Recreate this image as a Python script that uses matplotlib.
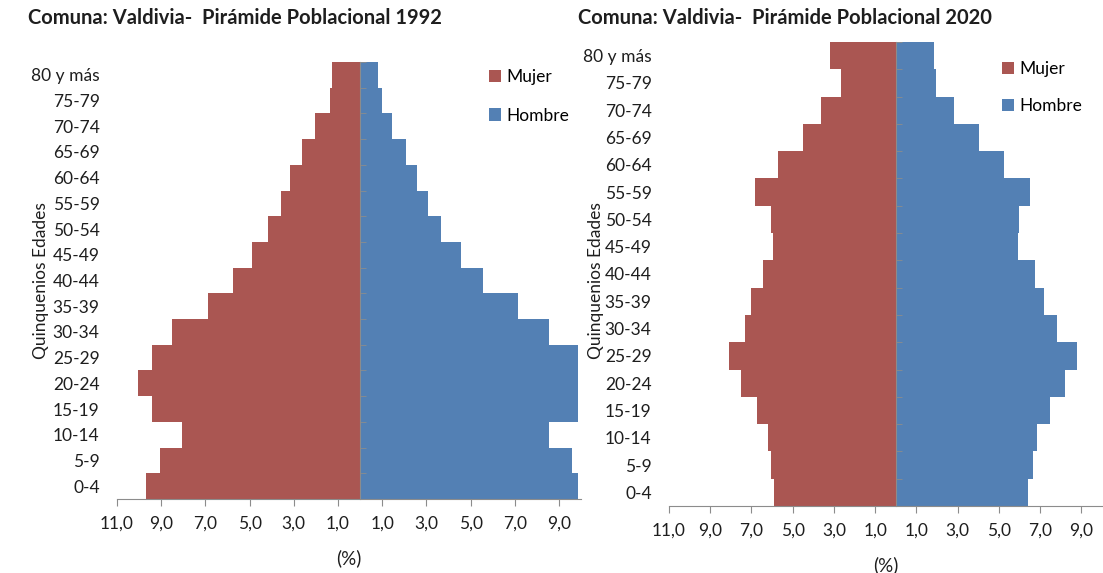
import matplotlib.pyplot as plt
import numpy as np
from matplotlib.ticker import FuncFormatter

# age groups, bottom to top
edades = ['0-4', '5-9', '10-14', '15-19', '20-24', '25-29', '30-34', '35-39',
          '40-44', '45-49', '50-54', '55-59', '60-64', '65-69', '70-74',
          '75-79', '80 y más']

# % of population, 1992
mujer_1992 = [9.68, 9.05, 8.04, 9.43, 10.03, 9.43, 8.49, 6.86, 5.76, 4.87,
              4.15, 3.57, 3.17, 2.64, 2.04, 1.36, 1.29]
hombre_1992 = [9.88, 9.59, 8.57, 9.88, 9.88, 9.88, 8.54, 7.13, 5.58, 4.58,
               3.68, 3.08, 2.56, 2.08, 1.46, 1.00, 0.83]

# % of population, 2020
mujer_2020 = [5.91, 6.05, 6.21, 6.72, 7.53, 8.07, 7.33, 7.02, 6.46, 5.97,
              6.07, 6.84, 5.73, 4.51, 3.62, 2.66, 3.19]
hombre_2020 = [6.40, 6.63, 6.87, 7.48, 8.19, 8.77, 7.84, 7.19, 6.73, 5.94,
               5.99, 6.53, 5.24, 4.02, 2.83, 1.95, 1.85]

red = '#AA5652'
blue = '#5380B4'
gray = '#8C8C8C'
txt = '#1E1E1E'

plt.rcParams['font.family'] = ['Lato', 'DejaVu Sans']

fig = plt.figure(figsize=(11.03, 5.73), dpi=100)


def piramide(rect, mujer, hombre, titulo, tx, leg_pos, ylab_x, lspace):
    ax = fig.add_axes(rect)
    y = np.arange(len(edades))
    ax.barh(y, -np.array(mujer), height=1.0, color=red, label='Mujer', linewidth=0)
    ax.barh(y, hombre, height=1.0, color=blue, label='Hombre', linewidth=0)
    ax.set_xlim(-11, 10)
    ax.set_ylim(-0.5, len(edades) - 0.5)

    ax.set_xticks(np.arange(-11, 10, 2))
    ax.xaxis.set_major_formatter(FuncFormatter(lambda v, p: ('%.1f' % abs(v)).replace('.', ',')))
    ax.tick_params(axis='x', direction='out', length=5, color=gray, labelsize=12.5,
                   labelcolor=txt, pad=7)

    ax.set_yticks(y)
    ax.set_yticklabels(edades)
    ax.set_yticks(np.arange(-0.5, len(edades), 1), minor=True)
    ax.tick_params(axis='y', which='major', left=False, right=False, labelsize=12.5,
                   labelcolor=txt, pad=9)
    ax.tick_params(axis='y', which='minor', left=False, right=True, length=4,
                   direction='out', color=gray)

    for s in ['top', 'left']:
        ax.spines[s].set_visible(False)
    ax.spines['right'].set_position(('data', 0))
    ax.spines['right'].set_color(gray)
    ax.spines['bottom'].set_color(gray)

    ax.set_xlabel('(%)', fontsize=13.5, color=txt, labelpad=13)
    fig.text(tx, 1 - 18 / 573, titulo, fontsize=14.5, fontweight='bold', color=txt,
             ha='left', va='center')
    fig.text(ylab_x, 0.51, 'Quinquenios Edades', rotation=90, fontsize=12.5,
             color=txt, ha='center', va='center')
    ax.legend(loc='upper left', bbox_to_anchor=leg_pos, bbox_transform=fig.transFigure,
              frameon=False, handlelength=0.7, handleheight=0.7, handletextpad=0.3,
              labelspacing=lspace, fontsize=12.5, borderaxespad=0)
    return ax


piramide([117 / 1103, 1 - 499 / 573, 464 / 1103, 437 / 573], mujer_1992, hombre_1992,
         'Comuna: Valdivia-  Pirámide Poblacional 1992', 28 / 1103,
         (482 / 1103, 1 - 62 / 573), 41 / 1103, 1.3)
piramide([669 / 1103, 1 - 506 / 573, 433 / 1103, 464 / 573], mujer_2020, hombre_2020,
         'Comuna: Valdivia-  Pirámide Poblacional 2020', 578 / 1103,
         (995 / 1103, 1 - 54 / 573), 596 / 1103, 1.2)

fig.savefig('out.png', dpi=100)
